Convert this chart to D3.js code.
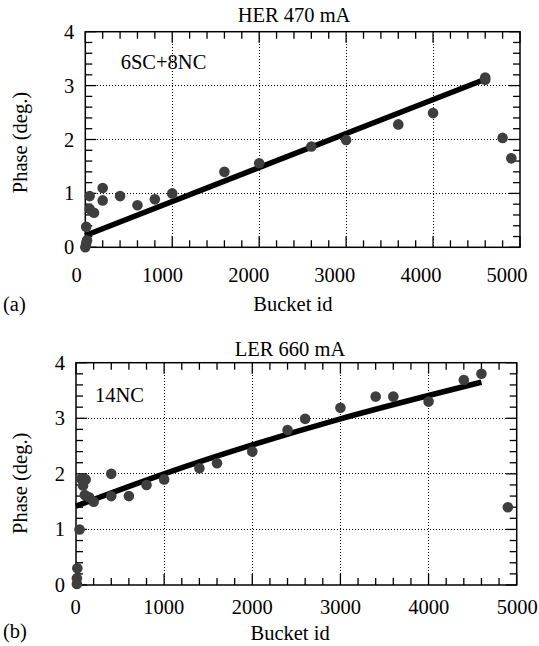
<!DOCTYPE html>
<html>
<head>
<meta charset="utf-8">
<script src="https://cdn.jsdelivr.net/npm/d3@7"></script>
<style>
  html, body { margin: 0; padding: 0; background: #fff; }
  svg { display: block; }
  text { font-family: "Liberation Serif", "Times New Roman", Times, serif; fill: #000; }
</style>
</head>
<body>
<svg id="chart" width="539" height="646"></svg>
<script>
// Panel (a): HER 470 mA, 6SC+8NC
const herBucket = [0, 10, 20, 10, 50, 50, 100, 200, 200, 400, 600, 800, 1000, 1600, 2000, 2600, 3000, 3600, 4000, 4600, 4600, 4800, 4900];
const herPhase  = [0.0, 0.07, 0.13, 0.38, 0.95, 0.71, 0.64, 1.10, 0.87, 0.95, 0.78, 0.89, 1.0, 1.40, 1.56, 1.87, 1.99, 2.28, 2.49, 3.11, 3.15, 2.03, 1.65];
const herFitBucket = [0, 4570];
const herFitPhase  = [0.22, 3.10];

// Panel (b): LER 660 mA, 14NC
const lerBucket = [10, 10, 15, 40, 60, 110, 80, 100, 150, 200, 400, 400, 600, 800, 1000, 1400, 1600, 2000, 2400, 2600, 3000, 3400, 3600, 4000, 4400, 4600, 4900];
const lerPhase  = [0.02, 0.12, 0.30, 1.0, 1.91, 1.90, 1.79, 1.62, 1.58, 1.50, 2.0, 1.60, 1.60, 1.80, 1.90, 2.10, 2.19, 2.40, 2.79, 2.99, 3.19, 3.39, 3.39, 3.30, 3.69, 3.80, 1.40];
const lerFitBucket = [0, 1000, 2000, 3000, 4000, 4600];
const lerFitPhase  = [1.42, 2.00, 2.52, 2.99, 3.41, 3.65];

// Axis ticks
const xMajor = [0, 1000, 2000, 3000, 4000, 5000];
const yMajor = [0, 1, 2, 3, 4];
const xTickLabels = ["0", "1000", "2000", "3000", "4000", "5000"];
const yTickLabels = ["0", "1", "2", "3", "4"];

const svg = d3.select("#chart");
svg.append("rect").attr("width", 539).attr("height", 646).attr("fill", "#fff");

const FONT = 20.5;

function drawPanel(cfg) {
  const x = d3.scaleLinear().domain([0, 5000]).range([cfg.left, cfg.right]);
  const y = d3.scaleLinear().domain([0, 4]).range([cfg.bottom, cfg.top]);
  const g = svg.append("g");

  // dotted grid
  const grid = g.append("g").attr("stroke", "#000").attr("stroke-width", 1)
    .attr("stroke-dasharray", "1,2").attr("fill", "none").attr("shape-rendering", "crispEdges");
  xMajor.filter(v => v > 0 && v < 5000).forEach(v => {
    grid.append("line").attr("x1", x(v)).attr("x2", x(v)).attr("y1", cfg.top).attr("y2", cfg.bottom);
  });
  yMajor.filter(v => v > 0 && v < 4).forEach(v => {
    grid.append("line").attr("x1", cfg.left).attr("x2", cfg.right).attr("y1", y(v)).attr("y2", y(v));
  });

  // inward ticks on all four sides
  const ticks = g.append("g").attr("stroke", "#000").attr("stroke-width", 1.3);
  const xMinor = d3.range(0, 5001, 200);
  const yMinor = d3.range(0, 4.001, 0.2).map(v => +v.toFixed(1));
  xMinor.forEach(v => {
    const len = (v % 1000 === 0) ? 11 : 7;
    ticks.append("line").attr("x1", x(v)).attr("x2", x(v)).attr("y1", cfg.bottom).attr("y2", cfg.bottom - len);
    ticks.append("line").attr("x1", x(v)).attr("x2", x(v)).attr("y1", cfg.top).attr("y2", cfg.top + len);
  });
  yMinor.forEach(v => {
    const len = (Math.abs(v - Math.round(v)) < 1e-6) ? 11 : 7;
    ticks.append("line").attr("x1", cfg.left).attr("x2", cfg.left + len).attr("y1", y(v)).attr("y2", y(v));
    ticks.append("line").attr("x1", cfg.right).attr("x2", cfg.right - len).attr("y1", y(v)).attr("y2", y(v));
  });

  // frame
  g.append("rect").attr("x", cfg.left).attr("y", cfg.top)
    .attr("width", cfg.right - cfg.left).attr("height", cfg.bottom - cfg.top)
    .attr("fill", "none").attr("stroke", "#000").attr("stroke-width", 1.5);

  // tick labels
  const xl = d3.scaleLinear().domain([0, 5000]).range(cfg.xLabelRange);
  const xAxis = g.append("g").attr("transform", `translate(0,${cfg.bottom})`)
    .call(d3.axisBottom(xl).tickValues(xMajor).tickFormat((d, i) => xTickLabels[i]).tickSize(0).tickPadding(cfg.xPad));
  const yAxis = g.append("g").attr("transform", `translate(${cfg.left},0)`)
    .call(d3.axisLeft(y).tickValues(yMajor).tickFormat((d, i) => yTickLabels[i]).tickSize(0).tickPadding(11));
  [xAxis, yAxis].forEach(a => {
    a.select(".domain").remove();
    a.selectAll("text").attr("font-size", FONT).attr("font-family", null).attr("fill", "#000");
  });

  // fit curve
  const fit = cfg.fitX.map((v, i) => [v, cfg.fitY[i]]);
  g.append("path").datum(fit)
    .attr("d", d3.line().x(d => x(d[0])).y(d => y(d[1])).curve(d3.curveMonotoneX))
    .attr("fill", "none").attr("stroke", "#000").attr("stroke-width", 5.5).attr("stroke-linecap", "butt");

  // measured points
  g.append("g").selectAll("circle").data(cfg.px.map((v, i) => [v, cfg.py[i]])).join("circle")
    .attr("cx", d => x(d[0])).attr("cy", d => y(d[1])).attr("r", 5.3).attr("fill", "#3e3e3e");

  // texts
  g.append("text").attr("x", cfg.titleX).attr("y", cfg.titleY).attr("text-anchor", "middle")
    .attr("font-size", FONT).text(cfg.title);
  g.append("text").attr("x", cfg.noteX).attr("y", cfg.noteY).attr("font-size", FONT).text(cfg.note);
  g.append("text").attr("transform", `translate(${cfg.yLabelX},${cfg.yLabelY}) rotate(-90)`)
    .attr("text-anchor", "middle").attr("font-size", FONT).text("Phase (deg.)");
  g.append("text").attr("x", cfg.xLabelX).attr("y", cfg.xLabelY).attr("font-size", FONT).text("Bucket id");
  g.append("text").attr("x", 3).attr("y", cfg.tagY).attr("font-size", FONT).text(cfg.tag);
}

drawPanel({
  left: 85.3, right: 520, top: 31.7, bottom: 247.3,
  xLabelRange: [76, 506.5], xPad: 20.2,
  px: herBucket, py: herPhase, fitX: herFitBucket, fitY: herFitPhase,
  title: "HER 470 mA", titleX: 294, titleY: 21.7,
  note: "6SC+8NC", noteX: 120.7, noteY: 69,
  yLabelX: 26.7, yLabelY: 142.5,
  xLabelX: 253.3, xLabelY: 311,
  tag: "(a)", tagY: 311.4
});

drawPanel({
  left: 76, right: 516.7, top: 362.7, bottom: 585,
  xLabelRange: [75, 516.7], xPad: 14.1,
  px: lerBucket, py: lerPhase, fitX: lerFitBucket, fitY: lerFitPhase,
  title: "LER 660 mA", titleX: 290, titleY: 356,
  note: "14NC", noteX: 95, noteY: 401.7,
  yLabelX: 26.7, yLabelY: 483.3,
  xLabelX: 250.5, xLabelY: 640,
  tag: "(b)", tagY: 638
});
</script>
</body>
</html>
